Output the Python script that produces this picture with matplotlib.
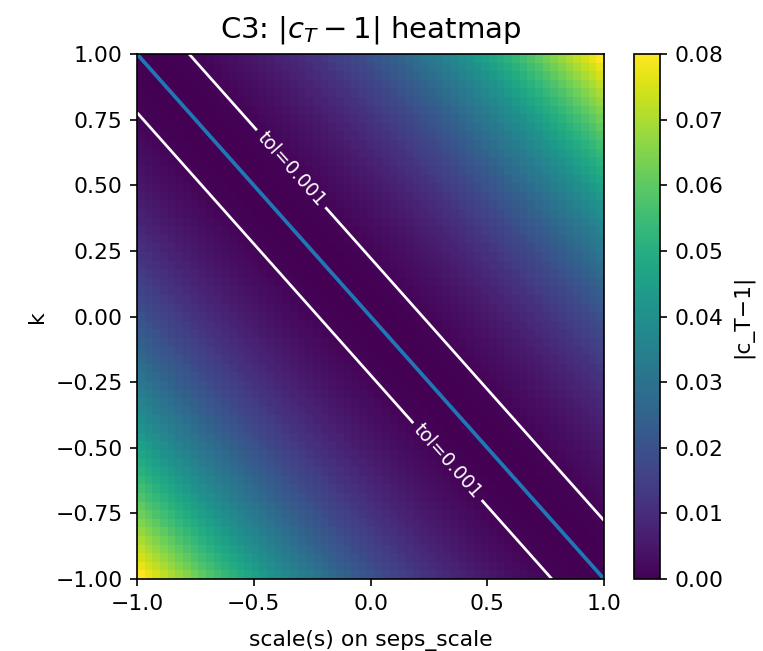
import numpy as np
import matplotlib
matplotlib.use('Agg')
import matplotlib.pyplot as plt

# grid axes (61 x 61 cells over [-1, 1])
s_vals = np.linspace(-1.0, 1.0, 61)
k_vals = np.linspace(-1.0, 1.0, 61)

# |c_T - 1|, indexed by the diagonal offset |i + j - 60|
resid_by_offset = [
    0.0, 0.00002, 0.00009, 0.0002, 0.00036, 0.00056, 0.0008, 0.00109, 0.00142, 0.0018,
    0.00222, 0.00269, 0.0032, 0.00376, 0.00436, 0.005, 0.00569, 0.00642, 0.0072, 0.00802,
    0.00889, 0.0098, 0.01076, 0.01176, 0.0128, 0.01389, 0.01502, 0.0162, 0.01742, 0.01869,
    0.02, 0.02136, 0.02276, 0.0242, 0.02569, 0.02722, 0.0288, 0.03042, 0.03209, 0.0338,
    0.03556, 0.03736, 0.0392, 0.04109, 0.04302, 0.045, 0.04702, 0.04909, 0.0512, 0.05336,
    0.05556, 0.0578, 0.06009, 0.06242, 0.0648, 0.06722, 0.06969, 0.0722, 0.07476, 0.07736,
    0.08,
]
tol_level = 0.001

n = len(s_vals)
ii, jj = np.meshgrid(np.arange(n), np.arange(n))
Z = np.asarray(resid_by_offset)[np.abs(ii + jj - (n - 1))]

fig = plt.figure(figsize=(763 / 150, 651 / 150), dpi=150)
ax = fig.add_axes([0.1796, 0.1106, 0.612, 0.8064])
cax = fig.add_axes([0.831, 0.1106, 0.034, 0.8064])

im = ax.imshow(Z, origin='lower', extent=[-1, 1, -1, 1], aspect='auto',
               cmap='viridis', interpolation='nearest')
S, K = np.meshgrid(s_vals, k_vals)
cs = ax.contour(S, K, Z, levels=[tol_level], colors='white', linewidths=1.3)
ax.clabel(cs, fmt={tol_level: 'tol=0.001'}, fontsize=9, inline=True,
          manual=[(-0.336, 0.566), (0.328, -0.554)])
ax.plot(s_vals, -s_vals, color='C0', linewidth=1.8)

ax.set_xlim(-1, 1)
ax.set_ylim(-1, 1)
ax.tick_params(labelsize=10.5)
ax.set_title(r'C3: $|c_T - 1|$ heatmap', fontsize=14, pad=8)
ax.set_xlabel('scale(s) on seps_scale', fontsize=10.5, labelpad=8)
ax.set_ylabel('k', fontsize=10.5)

cb = fig.colorbar(im, cax=cax)
cb.ax.tick_params(labelsize=10.5)
cb.set_label('|c_T\u22121|', fontsize=10.5)

fig.savefig('out.png', dpi=150)
